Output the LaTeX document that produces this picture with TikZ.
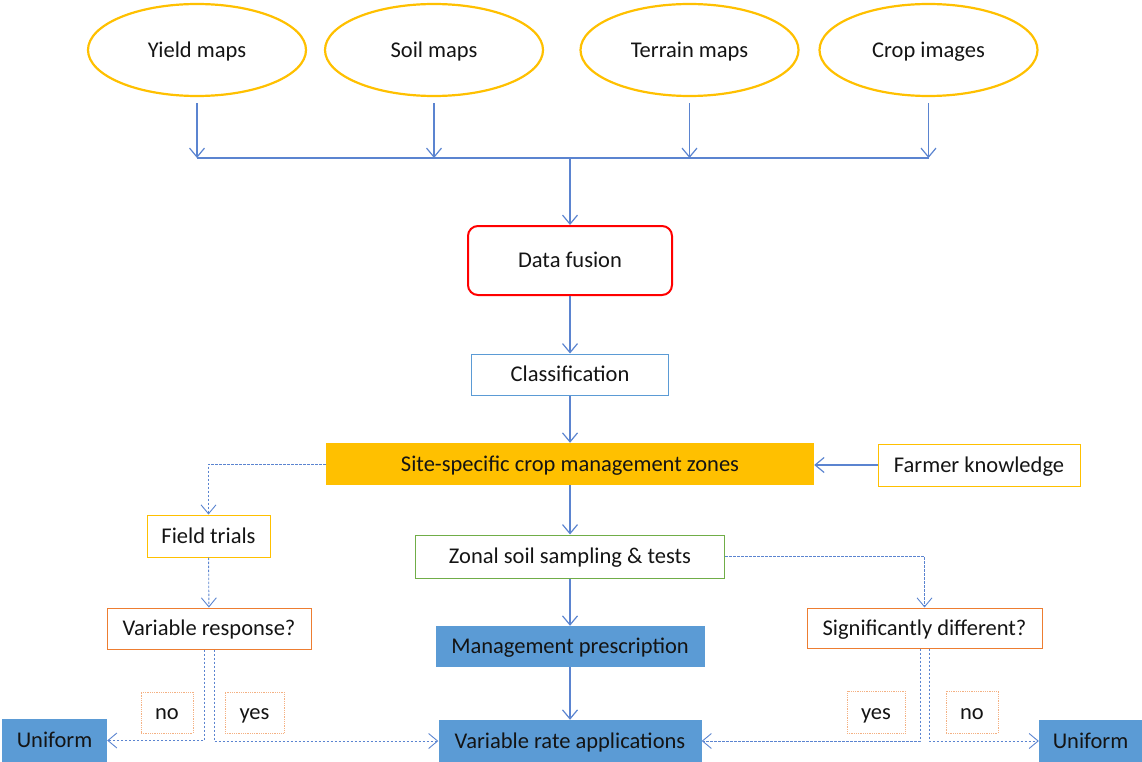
\documentclass[tikz,border=0pt]{standalone}
\usepackage{fontspec}
\setmainfont{Carlito}
\usetikzlibrary{arrows.meta,shapes.geometric}
\definecolor{linkblue}{HTML}{5B84D0}
\definecolor{gold}{HTML}{FFC000}
\definecolor{fillblue}{HTML}{5B9BD5}
\definecolor{zgreen}{HTML}{70AD47}
\definecolor{rorange}{HTML}{ED7D31}
\definecolor{lorange}{HTML}{F4B183}
\definecolor{ink}{HTML}{141414}
\tikzset{
  every node/.style={font=\fontsize{22.5}{26}\selectfont, text=ink, inner sep=0pt,
    text height=16pt, text depth=1.5pt},
  source/.style={ellipse, draw=gold, line width=2.2pt, minimum width=218, minimum height=92},
  box/.style={rectangle, line width=1pt},
  filledbox/.style={rectangle, fill=fillblue},
  tag/.style={rectangle, draw=lorange, densely dotted, line width=0.8pt},
  arr/.style={draw=linkblue, line width=1.2pt, -{Straight Barb[length=9pt,width=15pt]}},
  darr/.style={draw=linkblue, line width=0.9pt, dash pattern=on 2.5pt off 1.5pt, -{Straight Barb[length=9pt,width=15pt]}},
}
\begin{document}
\begin{tikzpicture}[x=1pt,y=-1pt]
\useasboundingbox (0,0) rectangle (1142,762);

% data sources
\node[source] (yield)   at (197,50)   {Yield maps};
\node[source] (soil)    at (434,50)   {Soil maps};
\node[source] (terrain) at (689.5,50) {Terrain maps};
\node[source] (crop)    at (928.5,50) {Crop images};

% collector bus
\coordinate (b1) at (197,158);
\coordinate (b2) at (434,158);
\coordinate (b3) at (689.5,158);
\coordinate (b4) at (928.5,158);
\coordinate (bm) at (570,158);

% main column
\node[rectangle, draw=red, line width=2pt, rounded corners=10pt, minimum width=204, minimum height=69] (fusion) at (570,260.5) {Data fusion};
\node[box, draw=fillblue, minimum width=197, minimum height=41] (class) at (570,374.5) {Classification};
\node[rectangle, fill=gold, minimum width=488, minimum height=42] (zones) at (570,464) {Site-specific crop management zones};
\node[box, draw=gold, minimum width=202, minimum height=42] (farmer) at (979,465) {Farmer knowledge};
\node[box, draw=zgreen, minimum width=309, minimum height=43] (zonal) at (570,556.5) {Zonal soil sampling \& tests};
\node[filledbox, minimum width=269, minimum height=41] (presc) at (570,646.5) {Management prescription};
\node[filledbox, minimum width=263, minimum height=42] (vra) at (570,741) {Variable rate applications};

% left branch
\node[box, draw=gold, minimum width=123, minimum height=42] (trials) at (208.5,536) {Field trials};
\node[box, draw=rorange, minimum width=204, minimum height=41] (resp) at (209,628.5) {Variable response?};
\node[filledbox, minimum width=105, minimum height=43] (unifL) at (54.5,740.5) {Uniform};
\node[tag, minimum width=52, minimum height=41] (noL) at (167,712.5) {no};
\node[tag, minimum width=59, minimum height=41] (yesL) at (254.5,712.5) {yes};

% right branch
\node[box, draw=rorange, minimum width=235, minimum height=40] (sig) at (924.5,628) {Significantly different?};
\node[filledbox, minimum width=103, minimum height=42] (unifR) at (1090.5,741) {Uniform};
\node[tag, minimum width=58, minimum height=42] (yesR) at (876,712) {yes};
\node[tag, minimum width=52, minimum height=42] (noR) at (972,712) {no};

% source arrows onto the bus
\foreach \s/\b in {yield/b1, soil/b2, terrain/b3, crop/b4}
  \draw[arr, shorten <=6pt] (\s) -- (\b);
\draw[draw=linkblue, line width=1.2pt] (b1) -- (b4);
\draw[arr] (bm) -- (fusion.north);

% main flow
\draw[arr] (fusion) -- (class);
\draw[arr] (class) -- (zones);
\draw[arr] (farmer.west) -- (farmer.west -| zones.east);
\draw[arr] (zones) -- (zonal);
\draw[arr] (zonal) -- (presc);
\draw[arr] (presc) -- (vra);

% left decision
\draw[darr] (zones.west) -| (trials.north);
\draw[darr] (trials) -- (resp);
\draw[darr] ([xshift=-5pt]resp.south) |- (unifL.east);
\draw[darr] ([xshift=5pt]resp.south) |- (vra.west);

% right decision
\draw[darr] (zonal.east) -| (sig.north);
\draw[darr] ([xshift=-4.5pt]sig.south) |- (vra.east);
\draw[darr] ([xshift=4.5pt]sig.south) |- (unifR.west);
\end{tikzpicture}
\end{document}
